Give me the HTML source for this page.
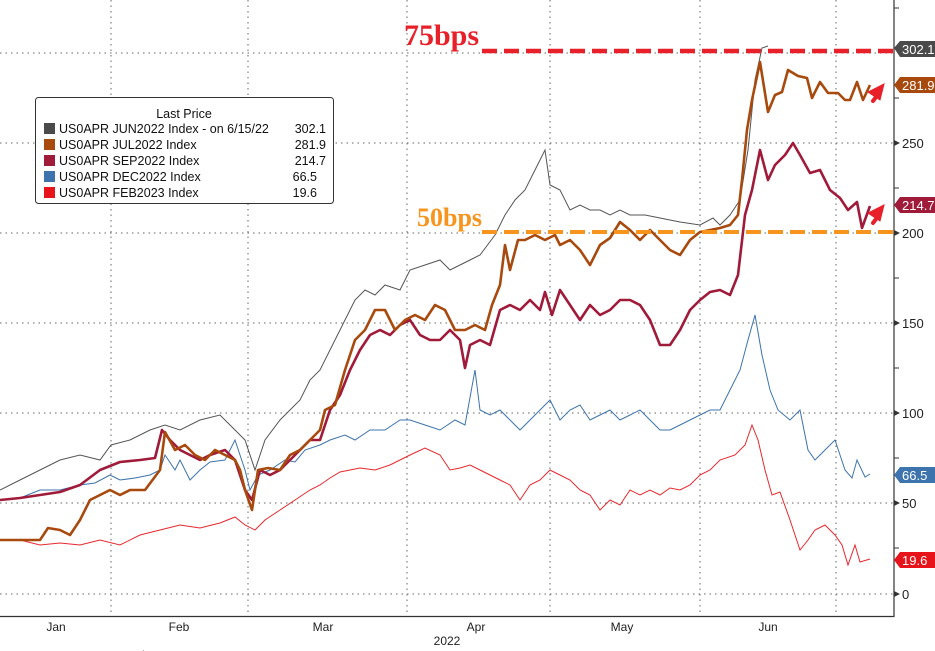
<!DOCTYPE html>
<html><head><meta charset="utf-8"><style>
html,body{margin:0;padding:0;background:#fff;}
svg{display:block;font-family:"Liberation Sans",sans-serif;}
</style></head><body>
<svg width="935" height="651" viewBox="0 0 935 651" xmlns="http://www.w3.org/2000/svg">
<rect width="935" height="651" fill="#fff"/>
<g stroke="#666" stroke-width="1" stroke-dasharray="1.5,4">
<line x1="0" y1="594" x2="893" y2="594"/><line x1="0" y1="503" x2="893" y2="503"/>
<line x1="0" y1="413" x2="893" y2="413"/><line x1="0" y1="323" x2="893" y2="323"/>
<line x1="0" y1="233" x2="893" y2="233"/><line x1="0" y1="143" x2="893" y2="143"/>
<line x1="0" y1="53" x2="893" y2="53"/>
<line x1="111" y1="0" x2="111" y2="616"/><line x1="248" y1="0" x2="248" y2="616"/>
<line x1="407" y1="0" x2="407" y2="616"/><line x1="550" y1="0" x2="550" y2="616"/>
<line x1="700" y1="0" x2="700" y2="616"/><line x1="836" y1="0" x2="836" y2="616"/>
</g>
<line x1="894" y1="0" x2="894" y2="617" stroke="#333" stroke-width="1.2"/>
<line x1="0" y1="616.5" x2="894" y2="616.5" stroke="#333" stroke-width="1.2"/>
<g stroke="#333"><line x1="894" y1="548" x2="899" y2="548"/><line x1="894" y1="458" x2="899" y2="458"/><line x1="894" y1="368" x2="899" y2="368"/><line x1="894" y1="278" x2="899" y2="278"/><line x1="894" y1="188" x2="899" y2="188"/><line x1="894" y1="98" x2="899" y2="98"/><line x1="894" y1="8" x2="899" y2="8"/></g>
<g fill="#333"><polygon points="894,591 900,594 894,597"/><polygon points="894,500 900,503 894,506"/><polygon points="894,410 900,413 894,416"/><polygon points="894,320 900,323 894,326"/><polygon points="894,230 900,233 894,236"/><polygon points="894,140 900,143 894,146"/></g>
<g font-size="13" fill="#222">
<text x="902" y="599">0</text><text x="902" y="508">50</text><text x="902" y="418">100</text><text x="902" y="328">150</text><text x="902" y="238">200</text><text x="902" y="148">250</text>
</g>
<g font-size="12" fill="#222" text-anchor="middle">
<text x="56" y="631">Jan</text><text x="179" y="631">Feb</text><text x="323" y="631">Mar</text><text x="476" y="631">Apr</text><text x="622" y="631">May</text><text x="768" y="631">Jun</text>
<text x="447" y="645">2022</text>
</g>
<text x="120" y="655" font-size="8" fill="#333" letter-spacing="1">. . . .: .. . .... .... . .. .... .... .... . ..... .. .. .... .... . ..... .. .. .... .... . ..... ... .... ....</text>
<polyline fill="none" stroke="#e8272d" stroke-width="1" points="0,540 20,540 40,545 60,543 80,545 100,540 120,545 140,535 160,530 180,525 200,528 220,523 235,517 245,525 255,530 265,520 280,510 295,500 310,490 320,485 330,478 340,472 350,470 360,468 375,470 390,465 400,460 410,455 425,448 440,455 450,470 460,468 470,465 480,470 490,475 500,480 510,485 520,500 530,485 540,480 550,470 560,475 570,480 580,490 590,495 600,510 610,500 620,505 630,490 640,495 650,490 660,495 670,488 680,490 690,485 700,475 710,470 720,460 735,455 745,445 752,425 758,440 765,470 772,495 780,492 790,520 800,550 808,540 815,530 825,525 835,535 842,545 848,565 855,545 860,562 870,559"/>
<polyline fill="none" stroke="#3d74ad" stroke-width="1" points="0,500 20,498 40,490 60,490 80,485 95,483 110,475 120,480 135,478 150,475 160,470 165,455 175,470 180,460 190,480 200,470 210,462 225,460 235,440 245,470 250,490 258,475 270,470 285,460 295,462 305,450 320,445 330,440 345,435 355,440 370,430 385,430 400,420 410,420 425,425 440,430 455,420 465,425 475,370 480,410 490,415 500,410 510,420 520,430 530,420 540,410 550,400 560,420 570,410 580,405 590,420 600,415 610,410 620,420 630,415 640,410 650,420 660,430 670,430 680,425 690,420 700,415 710,410 720,410 730,390 740,370 748,340 755,315 762,355 770,390 778,410 790,420 800,410 808,450 815,460 825,450 835,440 845,470 852,478 857,460 865,477 870,474"/>
<polyline fill="none" stroke="#555" stroke-width="1" points="0,490 20,480 40,470 60,460 80,455 100,460 111,445 130,440 150,430 165,425 180,430 200,420 220,415 235,430 245,440 255,470 265,440 280,420 300,400 310,380 320,370 330,350 345,320 355,300 365,290 375,295 385,285 400,290 410,270 425,265 440,260 450,270 460,265 470,260 480,255 495,235 505,215 515,200 525,190 535,170 545,150 550,185 560,190 570,210 580,205 590,210 600,210 610,215 620,210 630,215 645,215 660,218 680,222 700,225 713,218 720,225 730,215 740,200 748,150 755,80 762,48 768,46"/>
<polyline fill="none" stroke="#a01a3a" stroke-width="2.6" stroke-linejoin="round" points="0,500 20,498 40,495 60,492 80,485 100,470 120,462 140,460 155,458 162,430 170,440 180,450 190,455 200,460 210,455 225,450 235,460 245,490 252,500 260,470 270,475 280,470 290,460 300,450 310,440 320,440 330,410 340,395 350,370 360,350 370,335 380,330 390,335 400,325 410,320 420,335 430,340 440,340 450,330 460,340 465,368 470,345 480,340 490,345 500,310 510,305 520,310 530,300 540,310 545,292 552,315 560,290 570,305 580,320 590,305 600,315 610,310 620,300 630,300 640,305 650,320 660,345 670,345 680,330 690,310 700,300 710,292 720,290 730,295 738,275 745,215 752,190 760,150 768,180 775,165 785,155 793,143 800,155 810,173 820,170 830,190 840,198 848,210 857,202 862,228 870,206"/>
<polyline fill="none" stroke="#a84a0e" stroke-width="2.6" stroke-linejoin="round" points="0,540 20,540 40,540 48,528 60,530 70,535 80,520 90,500 100,495 110,490 120,495 130,490 145,490 160,470 165,432 175,450 185,445 195,455 205,460 215,450 225,455 235,460 240,470 245,490 252,510 258,470 268,468 280,470 290,455 300,450 310,440 320,430 325,410 335,405 345,370 355,340 365,330 375,310 385,310 395,330 405,320 415,315 425,320 435,305 445,310 455,330 465,330 475,325 485,330 492,305 500,285 505,245 510,270 518,240 525,240 535,235 545,240 555,235 560,245 570,240 580,250 590,265 600,245 610,238 620,222 630,230 640,240 650,230 660,240 670,250 680,255 690,240 700,232 710,230 720,228 730,225 738,215 742,180 747,130 752,100 760,62 768,112 775,95 782,92 788,70 798,76 807,78 812,98 820,82 828,93 838,93 845,100 850,100 857,82 863,100 870,85"/>
<line x1="482" y1="51" x2="893" y2="51" stroke="#e8202a" stroke-width="4.5" stroke-dasharray="15,7"/>
<line x1="482" y1="232" x2="893" y2="232" stroke="#f7941d" stroke-width="4" stroke-dasharray="15,7"/>
<text x="404" y="45" font-family="Liberation Serif,serif" font-weight="bold" font-size="30" fill="#e8202a">75bps</text>
<text x="417" y="226" font-family="Liberation Serif,serif" font-weight="bold" font-size="26" fill="#f7941d">50bps</text>
<g fill="#e8202a" stroke="#e8202a" stroke-width="4" stroke-linecap="round">
<line x1="873" y1="101" x2="879" y2="93"/><polygon points="884,84 868,92 880,100" stroke-width="1"/>
<line x1="873" y1="223" x2="879" y2="215"/><polygon points="884,205 868,213 880,221" stroke-width="1"/>
</g>
<g font-size="13" fill="#fff">
<polygon points="894,48 900,41 935,41 935,57 900,57" fill="#4a4a4a"/><text x="902" y="54">302.1</text>
<polygon points="894,85 900,77 935,77 935,93 900,93" fill="#a84a0e"/><text x="902" y="90">281.9</text>
<polygon points="894,205 900,197 935,197 935,213 900,213" fill="#a01a3a"/><text x="902" y="210">214.7</text>
<polygon points="894,475 900,467 935,467 935,483 900,483" fill="#3d74ad"/><text x="902" y="480">66.5</text>
<polygon points="894,560 900,552 935,552 935,568 900,568" fill="#e8141c"/><text x="902" y="565">19.6</text>
</g>
<rect x="35.5" y="97.5" width="298" height="106" rx="3" fill="#fff" stroke="#333" stroke-width="1"/>
<g font-size="12.5" fill="#111">
<text x="184" y="118" text-anchor="middle">Last Price</text>
<rect x="44" y="123" width="11" height="11" fill="#4a4a4a"/><text x="59" y="133">US0APR JUN2022 Index -  on 6/15/22</text><text x="326" y="133" text-anchor="end">302.1</text>
<rect x="44" y="139" width="11" height="11" fill="#a84a0e"/><text x="59" y="149">US0APR JUL2022 Index</text><text x="326" y="149" text-anchor="end">281.9</text>
<rect x="44" y="155" width="11" height="11" fill="#a01a3a"/><text x="59" y="165">US0APR SEP2022 Index</text><text x="326" y="165" text-anchor="end">214.7</text>
<rect x="44" y="171" width="11" height="11" fill="#3d74ad"/><text x="59" y="181">US0APR DEC2022 Index</text><text x="317" y="181" text-anchor="end">66.5</text>
<rect x="44" y="187" width="11" height="11" fill="#e8141c"/><text x="59" y="197">US0APR FEB2023 Index</text><text x="317" y="197" text-anchor="end">19.6</text>
</g>
</svg>
</body></html>
